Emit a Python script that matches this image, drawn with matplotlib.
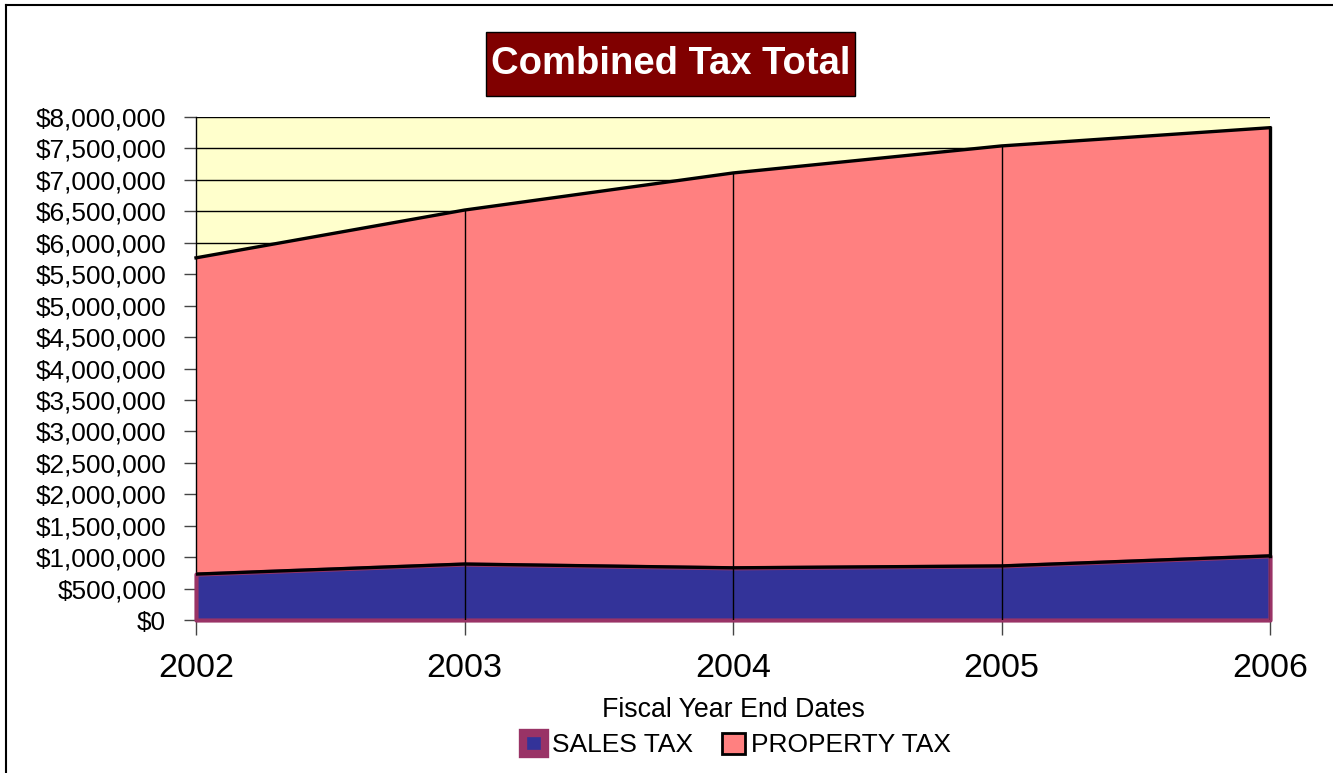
import numpy as np
import matplotlib.pyplot as plt
from matplotlib.patches import Patch, Rectangle
from matplotlib.lines import Line2D
from matplotlib.ticker import FuncFormatter

plt.rcParams['font.family'] = ['Liberation Sans', 'DejaVu Sans']

# fiscal years and tax collections (dollars)
years = ['2002', '2003', '2004', '2005', '2006']
sales_tax = [730000, 890000, 830000, 860000, 1020000]
property_tax = [5030000, 5630000, 6280000, 6680000, 6810000]

x = np.arange(len(years))
sales = np.array(sales_tax)
total = sales + np.array(property_tax)

W, H = 1333, 773
fig = plt.figure(figsize=(13.33, 7.73), dpi=100)
ax = fig.add_axes([196 / W, 1 - 620 / H, (1270 - 196) / W, (620 - 117) / H])
ax.set_facecolor('#FFFFCC')

# stacked areas
ax.fill_between(x, 0, sales, facecolor='#333399', edgecolor='#993366',
                linewidth=3, zorder=3, clip_on=False)
ax.fill_between(x, sales, total, facecolor='#FF8080', edgecolor='none', zorder=2)
ax.plot(x, total, color='black', lw=2.4, zorder=4, clip_on=False)
ax.plot(x, sales, color='black', lw=2.4, zorder=4)
ax.plot([x[-1], x[-1]], [sales[-1], total[-1]], color='black', lw=2.4, zorder=4, clip_on=False)

# drop lines at each year
ax.vlines(x[1:], 0, total[1:], color='black', lw=1, zorder=5)

ax.set_xlim(0, len(years) - 1)
ax.set_ylim(0, 8000000)
ax.set_yticks(np.arange(0, 8000001, 500000))
ax.yaxis.set_major_formatter(FuncFormatter(lambda v, p: '${:,.0f}'.format(v)))
ax.grid(axis='y', color='black', lw=1, zorder=1)
ax.set_axisbelow(True)
ax.set_xticks(x)
ax.set_xticklabels(years, fontsize=24.5)
ax.tick_params(axis='y', labelsize=18.8, length=9, width=1, color='#444444', pad=12.5)
ax.tick_params(axis='x', length=11, width=1, color='#444444', pad=13)
for s in ['top', 'right', 'bottom']:
    ax.spines[s].set_visible(False)
ax.spines['left'].set_linewidth(1)

ax.set_xlabel('Fiscal Year End Dates', fontsize=19.3, labelpad=9)

# title in a dark red box
fig.add_artist(Rectangle((486 / W, 1 - 96 / H), (855 - 486) / W, 64 / H,
                         transform=fig.transFigure, facecolor='#800000',
                         edgecolor='black', lw=1))
fig.text(670.5 / W, 1 - 64 / H, 'Combined Tax Total', ha='center', va='center',
         fontsize=27.5, fontweight='bold', color='white')

# outer frame lines
fig.add_artist(Line2D([6 / W, 6 / W], [0, 1 - 5 / H], color='black', lw=1.5))
fig.add_artist(Line2D([6 / W, 1], [1 - 5 / H, 1 - 5 / H], color='black', lw=1.5))

handles = [Patch(facecolor='#333399', edgecolor='#993366', lw=6),
           Patch(facecolor='#FF8080', edgecolor='black', lw=2)]
fig.legend(handles, ['SALES TAX', 'PROPERTY TAX'], loc='center', ncol=2,
           bbox_to_anchor=(737 / W, 1 - 745 / H), frameon=False, fontsize=19,
           handlelength=0.85, handleheight=0.85, handletextpad=0.25, columnspacing=1.1)

fig.savefig('out.png', dpi=100)
